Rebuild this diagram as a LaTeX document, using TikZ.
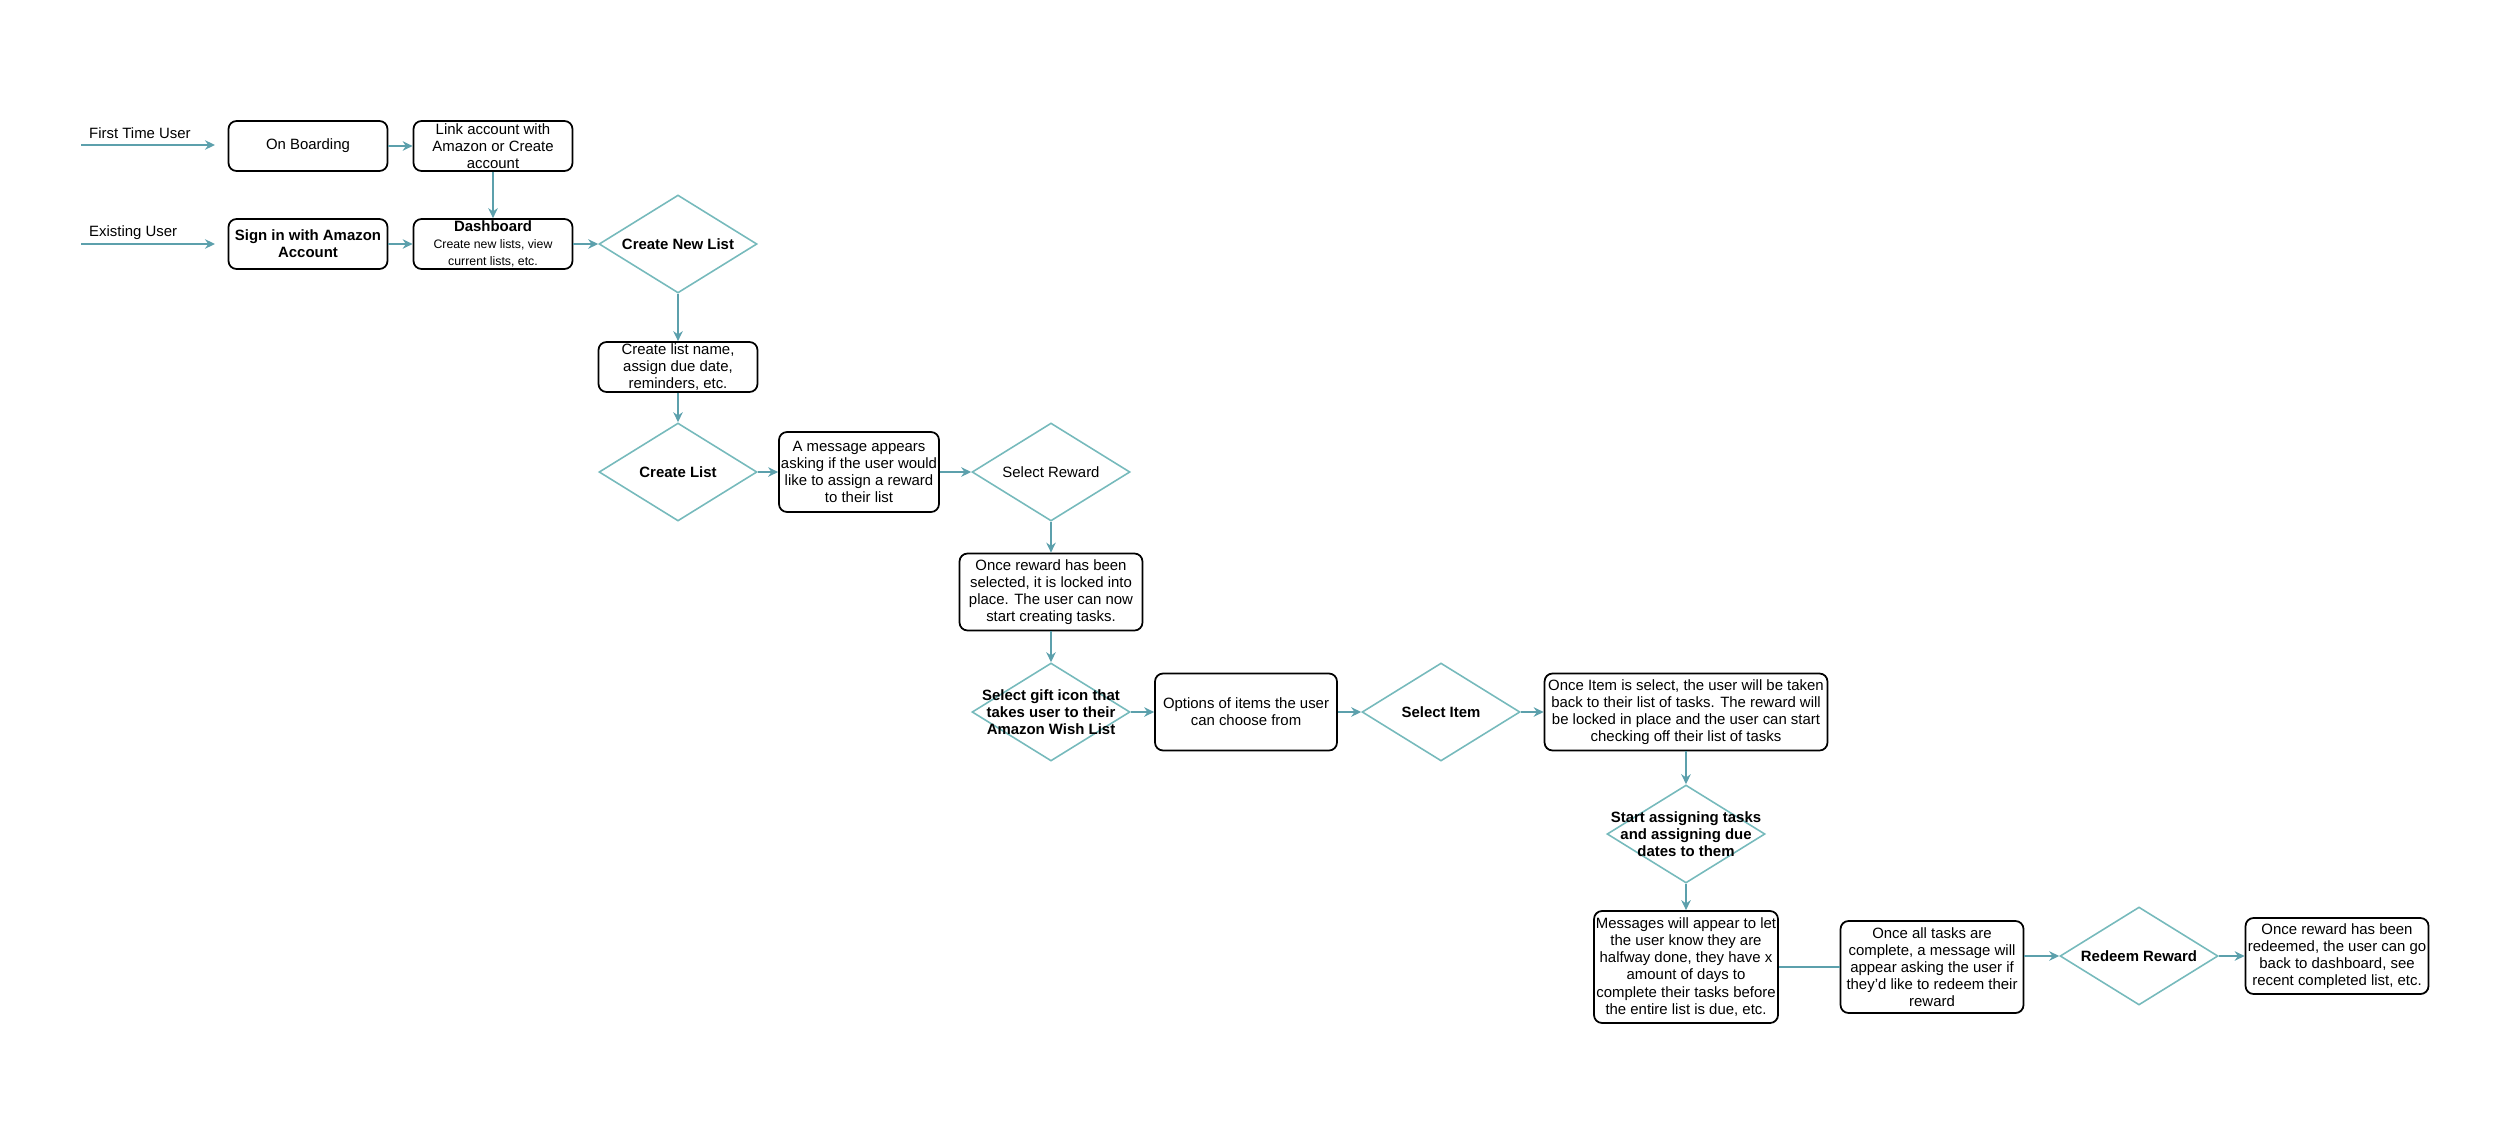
\documentclass[tikz,border=0pt]{standalone}
\usepackage{fontspec}
\setmainfont{Liberation Sans}
\usetikzlibrary{shapes.geometric,arrows.meta}
\definecolor{flowteal}{RGB}{92,160,172}
\definecolor{choiceteal}{RGB}{118,186,188}
\newcommand{\smalltxt}{\fontsize{7}{9.7}\selectfont}
\tikzset{
every node/.style={font=\fontsize{8.5}{9.7}\selectfont},
stage/.style={draw=black,line width=1pt,rounded corners=0.16cm,inner sep=0pt,align=center,minimum width=3.18cm,minimum height=1cm},
choice/.style={diamond,draw=choiceteal,line width=0.9pt,inner sep=0pt,minimum width=3.16cm,minimum height=1.96cm},
choicetxt/.style={align=center,inner sep=0pt},
choicebold/.style={choicetxt,font=\fontsize{8.5}{9.7}\selectfont\bfseries},
flow/.style={draw=flowteal,line width=0.9pt,-{Stealth[length=0.2cm,width=0.19cm]}},
plainflow/.style={draw=flowteal,line width=0.9pt}
}
\begin{document}
\begin{tikzpicture}[x=0.02cm,y=-0.02cm]
\useasboundingbox (0,0) rectangle (2500,1129);

\node[anchor=base west] (firstlbl) at (83,138) {First Time User};
\node[anchor=base west] (existlbl) at (83,236) {Existing User};
\coordinate (firstin) at (81,145);
\coordinate (firstout) at (215,145);
\coordinate (existin) at (81,244);
\coordinate (existout) at (215,244);

\node[stage] (onboard) at (308,146) {On Boarding};
\node[stage] (linkacct) at (493,146) {Link account with\\Amazon or Create\\account};
\node[stage,font=\fontsize{8.5}{9.7}\selectfont\bfseries] (signin) at (308,244) {Sign in with Amazon\\Account};
\node[stage] (dashboard) at (493,244) {\textbf{Dashboard}\\\smalltxt Create new lists, view\\\smalltxt current lists, etc.};
\node[choice,label={[choicebold]center:Create New List}] (newlist) at (678,244) {};
\node[stage] (listname) at (678,367) {Create list name,\\assign due date,\\reminders, etc.};
\node[choice,label={[choicebold]center:Create List}] (createlist) at (678,472) {};
\node[stage,minimum width=3.2cm,minimum height=1.6cm] (askmsg) at (859,472) {A message appears\\asking if the user would\\like to assign a reward\\to their list};
\node[choice,label={[choicetxt]center:Select Reward}] (selreward) at (1051,472) {};
\node[stage,minimum width=3.66cm,minimum height=1.54cm] (locked) at (1051,592) {Once reward has been\\selected, it is locked into\\place. The user can now\\start creating tasks.};
\node[choice,label={[choicebold]center:{Select gift icon that\\takes user to their\\Amazon Wish List}}] (giftcon) at (1051,712) {};
\node[stage,minimum width=3.64cm,minimum height=1.54cm] (options) at (1246,712) {Options of items the user\\can choose from};
\node[choice,label={[choicebold]center:Select Item}] (selitem) at (1441,712) {};
\node[stage,minimum width=5.66cm,minimum height=1.54cm] (itemback) at (1686,712) {Once Item is select, the user will be taken\\back to their list of tasks. The reward will\\be locked in place and the user can start\\checking off their list of tasks};
\node[choice,label={[choicebold]center:{Start assigning tasks\\and assigning due\\dates to them}}] (assign) at (1686,834) {};
\node[stage,minimum width=3.68cm,minimum height=2.24cm] (halfway) at (1686,967) {Messages will appear to let\\the user know they are\\halfway done, they have x\\amount of days to\\complete their tasks before\\the entire list is due, etc.};
\node[stage,minimum width=3.66cm,minimum height=1.84cm] (alldone) at (1932,967) {Once all tasks are\\complete, a message will\\appear asking the user if\\they'd like to redeem their\\reward};
\node[choice,label={[choicebold]center:Redeem Reward}] (redeem) at (2139,956) {};
\node[stage,minimum width=3.66cm,minimum height=1.52cm] (redeemed) at (2337,956) {Once reward has been\\redeemed, the user can go\\back to dashboard, see\\recent completed list, etc.};

\draw[flow] (firstin) -- (firstout);
\draw[flow] (existin) -- (existout);
\draw[flow] (onboard) -- (linkacct);
\draw[flow] (linkacct) -- (dashboard);
\draw[flow] (signin) -- (dashboard);
\draw[flow] (dashboard) -- (newlist);
\draw[flow] (newlist) -- (listname);
\draw[flow] (listname) -- (createlist);
\draw[flow] (createlist) -- (askmsg);
\draw[flow] (askmsg) -- (selreward);
\draw[flow] (selreward) -- (locked);
\draw[flow] (locked) -- (giftcon);
\draw[flow] (giftcon) -- (options);
\draw[flow] (options) -- (selitem);
\draw[flow] (selitem) -- (itemback);
\draw[flow] (itemback) -- (assign);
\draw[flow] (assign) -- (halfway);
\draw[plainflow] (halfway) -- (alldone);
\draw[flow] (alldone.east |- redeem) -- (redeem);
\draw[flow] (redeem) -- (redeemed);
\end{tikzpicture}
\end{document}
